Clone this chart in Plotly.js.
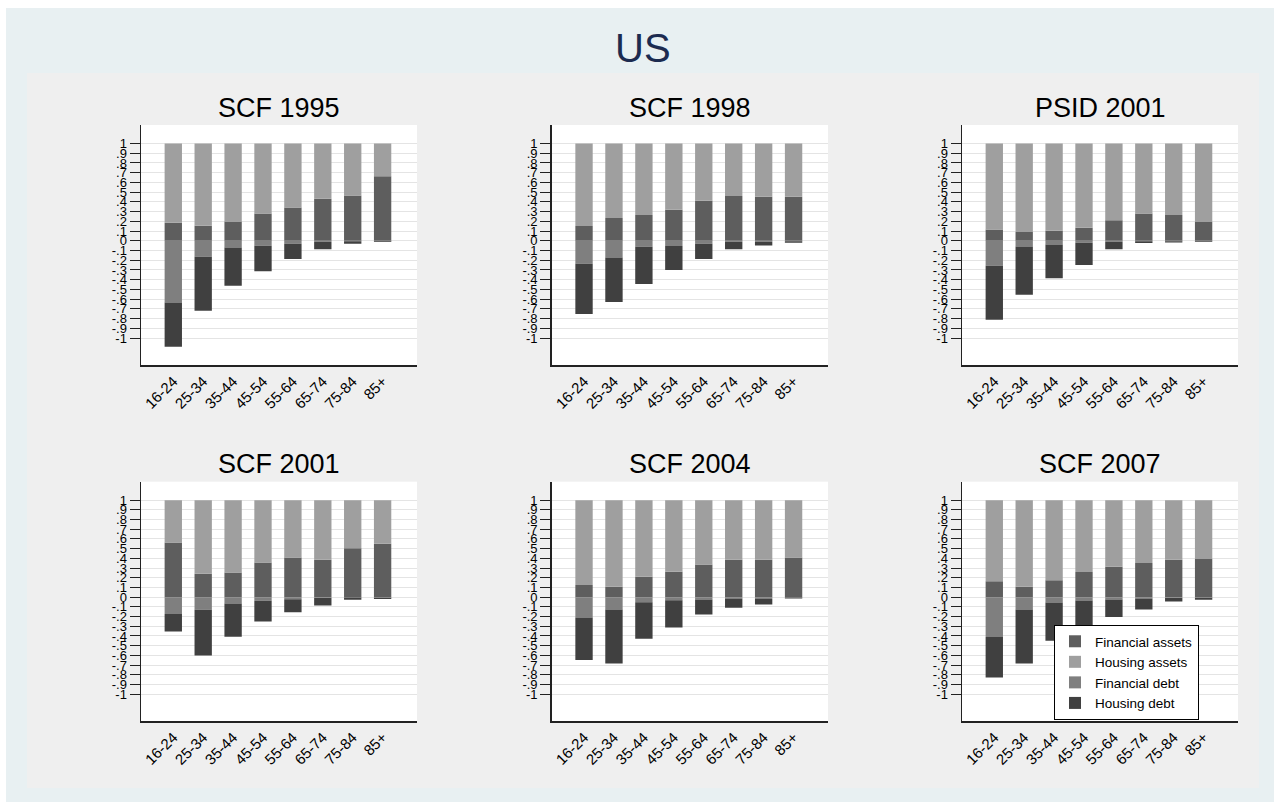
<!DOCTYPE html>
<html>
<head>
<meta charset="utf-8">
<script src="https://cdn.plot.ly/plotly-3.0.1.min.js"></script>
<style>
  html, body { margin: 0; padding: 0; background: #ffffff; }
  body { width: 1274px; height: 802px; position: relative; overflow: hidden; }
  #outerbg { position: absolute; left: 6px; top: 8px; width: 1268px; height: 794px; background: #e8f0f2; }
  #innerbg { position: absolute; left: 27px; top: 73px; width: 1232px; height: 715px; background: #efefef; }
  #chart { position: absolute; left: 0; top: 0; width: 1274px; height: 802px; }
</style>
</head>
<body>
<div id="outerbg"></div>
<div id="innerbg"></div>
<div id="chart"></div>
<script>
// ---- data (shares) ----
const ageGroups = ['16-24', '25-34', '35-44', '45-54', '55-64', '65-74', '75-84', '85+'];
const panelTitles = ['SCF 1995', 'SCF 1998', 'PSID 2001', 'SCF 2001', 'SCF 2004', 'SCF 2007'];
const seriesNames = ['Financial assets', 'Housing assets', 'Financial debt', 'Housing debt'];

const scf1995FinAssets  = [0.185, 0.154, 0.199, 0.281, 0.342, 0.432, 0.466, 0.664];
const scf1995HouseAssets= [0.815, 0.846, 0.801, 0.719, 0.658, 0.568, 0.534, 0.336];
const scf1995FinDebt    = [-0.634, -0.164, -0.068, -0.051, -0.031, -0.010, -0.005, -0.005];
const scf1995HouseDebt  = [-0.455, -0.555, -0.394, -0.261, -0.157, -0.076, -0.026, -0.007];

const scf1998FinAssets  = [0.151, 0.233, 0.264, 0.318, 0.411, 0.459, 0.452, 0.452];
const scf1998HouseAssets= [0.849, 0.767, 0.736, 0.682, 0.589, 0.541, 0.548, 0.548];
const scf1998FinDebt    = [-0.236, -0.171, -0.062, -0.055, -0.031, -0.010, -0.010, -0.005];
const scf1998HouseDebt  = [-0.517, -0.459, -0.383, -0.246, -0.157, -0.076, -0.038, -0.016];

const psid2001FinAssets  = [0.116, 0.089, 0.103, 0.134, 0.212, 0.281, 0.264, 0.192];
const psid2001HouseAssets= [0.884, 0.911, 0.897, 0.866, 0.788, 0.719, 0.736, 0.808];
const psid2001FinDebt    = [-0.257, -0.058, -0.038, -0.021, -0.010, -0.005, -0.004, -0.002];
const psid2001HouseDebt  = [-0.555, -0.497, -0.346, -0.229, -0.076, -0.019, -0.013, -0.008];

const scf2001FinAssets  = [0.564, 0.241, 0.254, 0.357, 0.409, 0.385, 0.505, 0.550];
const scf2001HouseAssets= [0.436, 0.759, 0.746, 0.643, 0.591, 0.615, 0.495, 0.450];
const scf2001FinDebt    = [-0.175, -0.131, -0.065, -0.038, -0.021, -0.010, -0.004, -0.006];
const scf2001HouseDebt  = [-0.179, -0.470, -0.344, -0.213, -0.134, -0.076, -0.023, -0.014];

const scf2004FinAssets  = [0.124, 0.107, 0.210, 0.261, 0.337, 0.385, 0.385, 0.409];
const scf2004HouseAssets= [0.876, 0.893, 0.790, 0.739, 0.663, 0.615, 0.615, 0.591];
const scf2004FinDebt    = [-0.210, -0.127, -0.052, -0.031, -0.024, -0.014, -0.020, -0.004];
const scf2004HouseDebt  = [-0.439, -0.557, -0.378, -0.282, -0.155, -0.096, -0.056, -0.010];

const scf2007FinAssets  = [0.165, 0.107, 0.175, 0.258, 0.313, 0.351, 0.385, 0.392];
const scf2007HouseAssets= [0.835, 0.893, 0.825, 0.742, 0.687, 0.649, 0.615, 0.608];
const scf2007FinDebt    = [-0.412, -0.127, -0.055, -0.034, -0.024, -0.014, -0.010, -0.006];
const scf2007HouseDebt  = [-0.416, -0.557, -0.395, -0.262, -0.182, -0.113, -0.035, -0.021];

const yTickVals = [-1, -0.9, -0.8, -0.7, -0.6, -0.5, -0.4, -0.3, -0.2, -0.1, 0,
                   0.1, 0.2, 0.3, 0.4, 0.5, 0.6, 0.7, 0.8, 0.9, 1];
const yTickText = ['-1', '-.9', '-.8', '-.7', '-.6', '-.5', '-.4', '-.3', '-.2', '-.1', '0',
                   '.1', '.2', '.3', '.4', '.5', '.6', '.7', '.8', '.9', '1'];

// ---- styling / layout ----
const seriesColors = ['#5e5e5e', '#9f9f9f', '#7f7f7f', '#404040'];
const panelData = [
  [scf1995FinAssets, scf1995HouseAssets, scf1995FinDebt, scf1995HouseDebt],
  [scf1998FinAssets, scf1998HouseAssets, scf1998FinDebt, scf1998HouseDebt],
  [psid2001FinAssets, psid2001HouseAssets, psid2001FinDebt, psid2001HouseDebt],
  [scf2001FinAssets, scf2001HouseAssets, scf2001FinDebt, scf2001HouseDebt],
  [scf2004FinAssets, scf2004HouseAssets, scf2004FinDebt, scf2004HouseDebt],
  [scf2007FinAssets, scf2007HouseAssets, scf2007FinDebt, scf2007HouseDebt]
];

const W = 1274, H = 802;
const colPx = [[141, 417], [551.7, 828], [962, 1238]];
const rowPx = [[125, 365.3], [481.7, 721.3]];
const titleYPx = [108, 464];
const FONT = 'Liberation Sans, Arial, Helvetica, sans-serif';

const traces = [];
const layout = {
  width: W, height: H,
  margin: {l: 0, r: 0, t: 0, b: 0, pad: 0},
  paper_bgcolor: 'rgba(0,0,0,0)',
  plot_bgcolor: '#ffffff',
  barmode: 'relative',
  bargap: 0.42,
  font: {family: FONT, color: '#000000'},
  showlegend: true,
  legend: {
    x: 1054 / W, y: 1 - 625 / H, xanchor: 'left', yanchor: 'top',
    bgcolor: '#ffffff', bordercolor: '#000000', borderwidth: 1,
    font: {family: FONT, size: 13.5, color: '#000000'},
    traceorder: 'normal', tracegroupgap: 0,
    itemclick: false, itemdoubleclick: false
  },
  annotations: [{
    text: 'US', xref: 'paper', yref: 'paper',
    x: 643 / W, y: 1 - 47.5 / H, xanchor: 'center', yanchor: 'middle',
    showarrow: false, font: {family: FONT, size: 40, color: '#1c2b50'}
  }]
};

panelData.forEach((series, p) => {
  const r = Math.floor(p / 3), c = p % 3;
  const idx = p + 1;
  const xName = idx === 1 ? 'x' : 'x' + idx;
  const yName = idx === 1 ? 'y' : 'y' + idx;
  series.forEach((vals, s) => {
    traces.push({
      type: 'bar', x: ageGroups, y: vals, name: seriesNames[s],
      xaxis: xName, yaxis: yName,
      marker: {color: seriesColors[s], line: {width: 0}},
      legendgroup: seriesNames[s], showlegend: p === 0,
      hoverinfo: 'skip'
    });
  });
  layout['xaxis' + (idx === 1 ? '' : idx)] = {
    domain: [colPx[c][0] / W, colPx[c][1] / W],
    anchor: yName,
    type: 'category',
    range: [-1.08, 8.15],
    showline: true, linecolor: '#222222', linewidth: 1.5,
    showgrid: false, zeroline: false, ticks: '',
    tickangle: -45,
    tickfont: {family: FONT, size: 15, color: '#000000'},
    fixedrange: true
  };
  layout['yaxis' + (idx === 1 ? '' : idx)] = {
    domain: [1 - rowPx[r][1] / H, 1 - rowPx[r][0] / H],
    anchor: xName,
    range: [-1.28, 1.19],
    tickmode: 'array', tickvals: yTickVals, ticktext: yTickText,
    ticks: 'outside', ticklen: 10, tickwidth: 1, tickcolor: '#222222',
    showline: true, linecolor: '#222222', linewidth: 1.5,
    showgrid: true, gridcolor: '#e4e4e4', gridwidth: 1,
    zeroline: false,
    tickfont: {family: FONT, size: 13, color: '#000000'},
    fixedrange: true
  };
  layout.annotations.push({
    text: panelTitles[p], xref: 'paper', yref: 'paper',
    x: (colPx[c][0] + colPx[c][1]) / 2 / W, y: 1 - titleYPx[r] / H,
    xanchor: 'center', yanchor: 'middle', showarrow: false,
    font: {family: FONT, size: 27, color: '#000000'}
  });
});

Plotly.newPlot('chart', traces, layout, {displayModeBar: false, staticPlot: true});
</script>
</body>
</html>
